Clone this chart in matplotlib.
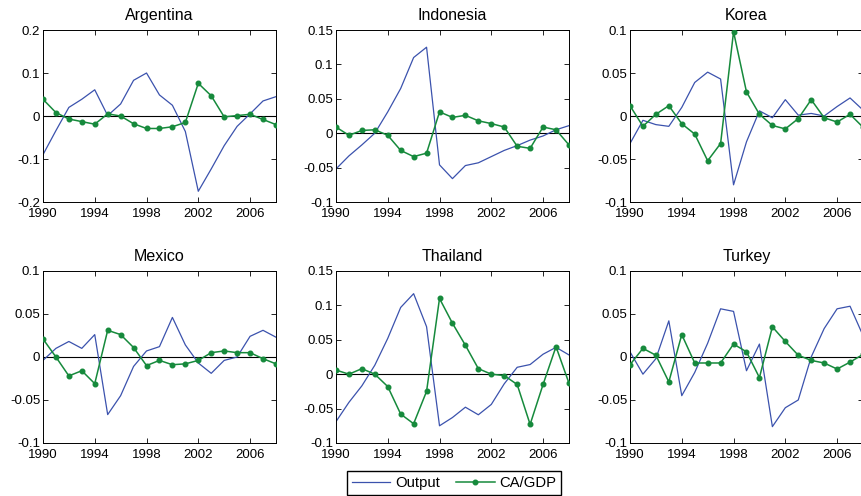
"""Output vs CA/GDP : six pays émergents, 1990-2008."""

import matplotlib.pyplot as plt
import numpy as np

plt.rcParams["font.family"] = ["Liberation Sans", "DejaVu Sans"]
plt.rcParams["font.size"] = 9.5

YEARS = list(range(1990, 2009))
COUNTRIES = ["Argentina", "Indonesia", "Korea", "Mexico", "Thailand", "Turkey"]

argentina_output = [-0.090, -0.034, 0.020, 0.039, 0.061, 0.001, 0.028, 0.083, 0.100, 0.049,
                    0.025, -0.036, -0.175, -0.123, -0.069, -0.024, 0.005, 0.035, 0.045]
argentina_ca = [0.039, 0.008, -0.007, -0.013, -0.019, 0.005, 0.000, -0.018, -0.029, -0.029,
                -0.025, -0.015, 0.076, 0.047, -0.002, 0.001, 0.004, -0.008, -0.020]

indonesia_output = [-0.052, -0.033, -0.017, 0.000, 0.031, 0.065, 0.110, 0.125, -0.046, -0.066,
                    -0.047, -0.043, -0.034, -0.025, -0.018, -0.010, -0.004, 0.005, 0.011]
indonesia_ca = [0.009, -0.003, 0.004, 0.005, -0.003, -0.025, -0.034, -0.029, 0.031, 0.023,
                0.026, 0.018, 0.014, 0.009, -0.019, -0.022, 0.009, 0.005, -0.017]

korea_output = [-0.032, -0.005, -0.010, -0.012, 0.010, 0.039, 0.051, 0.043, -0.080, -0.030,
                0.006, -0.002, 0.019, 0.001, 0.003, 0.000, 0.011, 0.021, 0.007]
korea_ca = [0.012, -0.012, 0.002, 0.012, -0.009, -0.021, -0.052, -0.032, 0.098, 0.028,
            0.002, -0.011, -0.015, -0.003, 0.019, -0.002, -0.007, 0.002, -0.013]

mexico_output = [-0.004, 0.010, 0.018, 0.010, 0.026, -0.067, -0.045, -0.011, 0.007, 0.012,
                 0.046, 0.014, -0.007, -0.019, -0.004, 0.000, 0.024, 0.031, 0.023]
mexico_ca = [0.021, 0.000, -0.022, -0.016, -0.031, 0.031, 0.026, 0.011, -0.010, -0.004,
             -0.009, -0.008, -0.004, 0.005, 0.007, 0.005, 0.005, -0.002, -0.008]

thailand_output = [-0.069, -0.041, -0.017, 0.013, 0.052, 0.097, 0.117, 0.069, -0.075, -0.063,
                   -0.048, -0.059, -0.044, -0.014, 0.010, 0.014, 0.029, 0.039, 0.028]
thailand_ca = [0.006, 0.000, 0.008, 0.000, -0.018, -0.058, -0.072, -0.025, 0.110, 0.074,
               0.042, 0.008, 0.000, -0.002, -0.015, -0.073, -0.015, 0.040, -0.013]

turkey_output = [0.006, -0.020, -0.002, 0.042, -0.045, -0.018, 0.016, 0.056, 0.053, -0.016,
                 0.015, -0.081, -0.059, -0.050, 0.000, 0.033, 0.056, 0.059, 0.025]
turkey_ca = [-0.009, 0.010, 0.002, -0.029, 0.026, -0.007, -0.007, -0.007, 0.015, 0.006,
             -0.024, 0.035, 0.018, 0.002, -0.004, -0.007, -0.014, -0.006, 0.003]

OUTPUTS = [argentina_output, indonesia_output, korea_output,
           mexico_output, thailand_output, turkey_output]
CAS = [argentina_ca, indonesia_ca, korea_ca, mexico_ca, thailand_ca, turkey_ca]

# limites et graduations y (format MATLAB)
Y_TICKS = [
    [-0.2, -0.1, 0, 0.1, 0.2],
    [-0.1, -0.05, 0, 0.05, 0.1, 0.15],
    [-0.1, -0.05, 0, 0.05, 0.1],
    [-0.1, -0.05, 0, 0.05, 0.1],
    [-0.1, -0.05, 0, 0.05, 0.1, 0.15],
    [-0.1, -0.05, 0, 0.05, 0.1],
]
X_TICKS = [1990, 1994, 1998, 2002, 2006]

BLUE = "#3b52ad"
GREEN = "#168a3c"


def fmt(v):
    if v == 0:
        return "0"
    return f"{v:g}"


def main():
    fig = plt.figure(figsize=(8.61, 4.96), dpi=100)
    lefts = [0.0499, 0.3902, 0.7317]
    bottoms = [0.5927, 0.1069]
    width, height = 0.2706, 0.3468

    for i, country in enumerate(COUNTRIES):
        ax = fig.add_axes([lefts[i % 3], bottoms[i // 3], width, height])
        ax.axhline(0, color="black", lw=0.8, zorder=1)
        l_out, = ax.plot(YEARS, OUTPUTS[i], color=BLUE, lw=0.9, label="Output", zorder=2)
        l_ca, = ax.plot(YEARS, CAS[i], color=GREEN, lw=1.1, marker="o", markersize=3.3,
                        label="CA/GDP", zorder=3)
        yt = Y_TICKS[i]
        ax.set_xlim(1990, 2008)
        ax.set_ylim(yt[0], yt[-1])
        ax.set_yticks(yt)
        ax.set_yticklabels([fmt(v) for v in yt])
        ax.set_xticks(X_TICKS)
        ax.set_xticklabels([str(y) for y in X_TICKS])
        ax.tick_params(direction="in", top=True, right=True, length=3.5, width=0.6)
        ax.tick_params(axis="x", pad=4.5)
        ax.tick_params(axis="y", pad=2)
        for s in ax.spines.values():
            s.set_linewidth(0.7)
        ax.set_title(country, fontsize=11.5, pad=7)

    fig.legend([l_out, l_ca], ["Output", "CA/GDP"], loc="center",
               bbox_to_anchor=(454 / 861, 1 - 483 / 496), ncol=2, fancybox=False,
               edgecolor="black", framealpha=1, handlelength=2.6, handletextpad=0.3,
               columnspacing=1.1, borderpad=0.35, fontsize=10.7)

    fig.savefig("out.png", dpi=100)
    plt.close(fig)


if __name__ == "__main__":
    main()
